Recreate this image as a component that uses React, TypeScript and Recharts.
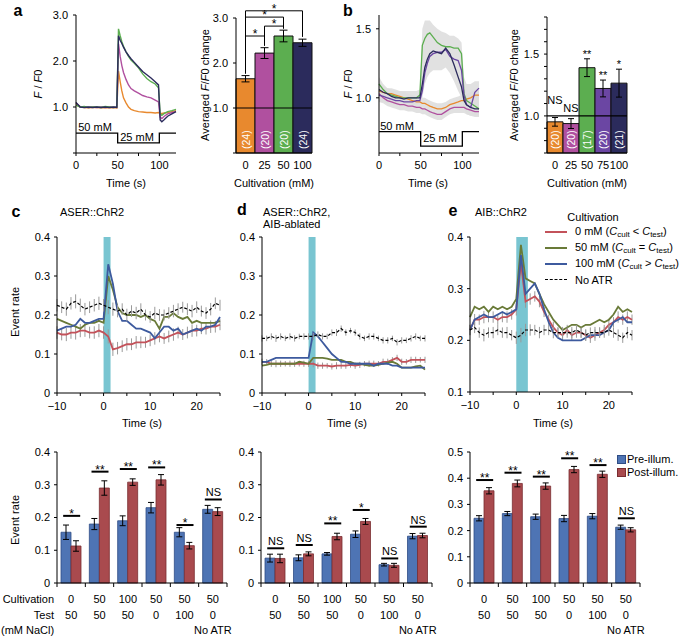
import React from "react";
import {
  LineChart,
  Line,
  BarChart,
  Bar,
  Cell,
  ComposedChart,
  Area,
  XAxis,
  YAxis,
  ReferenceLine,
  ReferenceArea,
  ReferenceDot,
  ErrorBar,
  LabelList,
} from "recharts";

// ---------- panel a : ASER responses, F/F0 ----------
const A_TIME = [0, 5, 10, 15, 20, 25, 30, 35, 40, 45, 49, 51, 53, 55, 57, 60, 63, 66, 70, 75, 80, 85, 90, 95, 99, 101, 103, 106, 110, 115, 120];
const A_0MM = [1.05, 1.0, 0.99, 0.98, 0.99, 0.99, 0.98, 0.99, 0.98, 0.99, 0.98, 1.78, 1.55, 1.35, 1.2, 1.09, 1.0, 0.95, 0.92, 0.9, 0.89, 0.88, 0.88, 0.87, 0.88, 0.86, 0.86, 0.87, 0.88, 0.9, 0.92];
const A_25MM = [1.08, 1.01, 1.0, 0.99, 1.0, 0.99, 1.0, 0.99, 1.0, 0.99, 1.0, 2.38, 2.1, 1.9, 1.75, 1.6, 1.48, 1.4, 1.35, 1.3, 1.25, 1.22, 1.2, 1.15, 1.11, 0.78, 0.75, 0.8, 0.85, 0.88, 0.9];
const A_50MM = [1.04, 1.0, 1.01, 0.99, 1.0, 1.0, 0.99, 1.01, 1.0, 0.99, 1.0, 2.7, 2.55, 2.42, 2.32, 2.2, 2.1, 2.02, 1.95, 1.85, 1.72, 1.62, 1.55, 1.5, 1.42, 0.85, 0.82, 0.86, 0.9, 0.92, 0.95];
const A_100MM = [1.1, 1.0, 0.99, 1.0, 0.99, 1.0, 0.99, 1.0, 0.99, 1.0, 0.99, 2.55, 2.45, 2.38, 2.3, 2.2, 2.12, 2.05, 1.97, 1.87, 1.77, 1.7, 1.63, 1.55, 1.48, 0.72, 0.68, 0.73, 0.8, 0.85, 0.9];

const STIM_TIME = [0, 50, 100, 120];
const STIM_CONC = [50, 25, 50, 50];

const A_BAR_CULT = ["0", "25", "50", "100"];
const A_BAR_MEAN = [1.65, 2.22, 2.6, 2.45];
const A_BAR_ERR = [0.07, 0.12, 0.13, 0.08];
const A_BAR_N = ["(24)", "(20)", "(20)", "(24)"];

// ---------- panel b : AIB responses ----------
const B_TIME = [0, 5, 10, 15, 20, 25, 30, 35, 40, 45, 49, 52, 55, 58, 61, 65, 70, 75, 80, 85, 90, 95, 99, 102, 105, 110, 115, 120];
const B_0MM = [1.05, 1.04, 1.03, 1.03, 1.02, 1.01, 1.0, 0.99, 0.98, 0.97, 0.97, 0.96, 0.96, 0.95, 0.94, 0.93, 0.92, 0.92, 0.93, 0.95, 0.96, 0.97, 0.98, 0.98, 0.99, 1.0, 1.02, 1.02];
const B_25MM = [1.03, 1.0, 0.98, 0.97, 0.96, 0.95, 0.95, 0.94, 0.94, 0.93, 0.93, 0.92, 0.92, 0.91, 0.9, 0.89, 0.88, 0.88, 0.9, 0.92, 0.93, 0.93, 0.93, 0.93, 0.92, 0.91, 0.9, 0.9];
const B_50MM = [1.1, 1.06, 1.03, 1.02, 1.01, 1.0, 1.0, 1.0, 1.0, 1.0, 1.02, 1.38, 1.43, 1.46, 1.47, 1.44, 1.4, 1.38, 1.37, 1.37, 1.36, 1.36, 1.32, 1.03, 0.98, 0.96, 0.94, 0.92];
const B_75MM = [1.02, 1.01, 1.0, 0.99, 0.98, 0.98, 0.97, 0.97, 0.97, 0.98, 0.98, 1.05, 1.18, 1.25, 1.3, 1.32, 1.33, 1.33, 1.35, 1.3, 1.28, 1.27, 1.2, 1.02, 0.95, 0.93, 1.04, 1.07];
const B_100MM = [1.06, 1.04, 1.03, 1.01, 1.0, 1.0, 0.99, 1.0, 1.0, 1.0, 1.0, 1.1, 1.22, 1.28, 1.32, 1.34, 1.33, 1.32, 1.36, 1.32, 1.24, 1.15, 1.08, 0.98, 0.95, 0.93, 0.92, 0.92];
// s.e.m. envelopes (upper traces / lower traces)
const B_UP_LO = [0.97, 0.97, 0.96, 0.96, 0.95, 0.95, 0.95, 0.95, 0.95, 0.95, 0.96, 1.0, 1.1, 1.15, 1.18, 1.2, 1.2, 1.2, 1.22, 1.18, 1.12, 1.05, 1.0, 0.92, 0.88, 0.87, 0.87, 0.87];
const B_UP_HI = [1.15, 1.1, 1.07, 1.06, 1.05, 1.05, 1.05, 1.05, 1.05, 1.05, 1.06, 1.5, 1.56, 1.56, 1.56, 1.53, 1.5, 1.48, 1.47, 1.45, 1.45, 1.43, 1.4, 1.15, 1.1, 1.1, 1.12, 1.12];
const B_LOW_LO = [0.97, 0.96, 0.94, 0.93, 0.92, 0.91, 0.91, 0.9, 0.9, 0.89, 0.89, 0.88, 0.88, 0.87, 0.86, 0.85, 0.84, 0.84, 0.86, 0.88, 0.89, 0.89, 0.89, 0.89, 0.88, 0.87, 0.86, 0.86];
const B_LOW_HI = [1.09, 1.08, 1.07, 1.07, 1.06, 1.05, 1.04, 1.03, 1.02, 1.01, 1.01, 1.0, 1.0, 0.99, 0.98, 0.97, 0.96, 0.96, 0.97, 0.99, 1.0, 1.01, 1.02, 1.02, 1.03, 1.04, 1.06, 1.06];

const B_BAR_CULT = ["0", "25", "50", "75", "100"];
const B_BAR_MEAN = [0.952, 0.938, 1.39, 1.222, 1.265];
const B_BAR_ERR = [0.035, 0.04, 0.072, 0.068, 0.113];
const B_BAR_N = ["(20)", "(20)", "(17)", "(20)", "(21)"];
const B_BAR_SIG = ["NS", "NS", "**", "**", "*"];
const B_BAR_SIG_AT = [1.13, 1.065, 1.5, 1.333, 1.418];

// ---------- panels c-e : event-rate traces ----------
const T_TIME = [-10, -9, -8, -7, -6, -5, -4, -3, -2, -1, 0, 1, 2, 3, 4, 5, 6, 7, 8, 9, 10, 11, 12, 13, 14, 15, 16, 17, 18, 19, 20, 21, 22, 23, 24, 25];

const C_0MM = [0.155, 0.15, 0.15, 0.155, 0.155, 0.16, 0.16, 0.155, 0.155, 0.16, 0.155, 0.145, 0.112, 0.115, 0.12, 0.125, 0.125, 0.13, 0.13, 0.13, 0.135, 0.14, 0.145, 0.14, 0.145, 0.15, 0.155, 0.15, 0.155, 0.16, 0.16, 0.165, 0.165, 0.17, 0.17, 0.175];
const C_50MM = [0.19, 0.185, 0.18, 0.175, 0.17, 0.165, 0.175, 0.18, 0.18, 0.185, 0.18, 0.3, 0.265, 0.22, 0.205, 0.2, 0.2, 0.2, 0.195, 0.2, 0.19, 0.185, 0.165, 0.195, 0.195, 0.205, 0.195, 0.19, 0.195, 0.18, 0.185, 0.18, 0.18, 0.18, 0.18, 0.185];
const C_100MM = [0.16, 0.165, 0.17, 0.17, 0.175, 0.19, 0.18, 0.18, 0.185, 0.19, 0.19, 0.33, 0.28, 0.21, 0.185, 0.185, 0.175, 0.165, 0.165, 0.16, 0.155, 0.14, 0.155, 0.17, 0.17, 0.16, 0.165, 0.15, 0.155, 0.16, 0.165, 0.16, 0.17, 0.17, 0.175, 0.195];
const C_NO_ATR = [0.225, 0.22, 0.215, 0.23, 0.235, 0.225, 0.215, 0.22, 0.225, 0.23, 0.225, 0.22, 0.215, 0.21, 0.215, 0.2, 0.21, 0.205, 0.215, 0.2, 0.195, 0.205, 0.2, 0.2, 0.205, 0.21, 0.215, 0.22, 0.215, 0.21, 0.22, 0.21, 0.205, 0.215, 0.23, 0.225];
const C_SEM = [0.016, 0.015, 0.017, 0.016, 0.018, 0.017, 0.016, 0.015, 0.016, 0.017, 0.016, 0.018, 0.017, 0.016, 0.015, 0.016, 0.015, 0.016, 0.015, 0.014, 0.015, 0.016, 0.015, 0.014, 0.015, 0.016, 0.015, 0.014, 0.015, 0.016, 0.015, 0.014, 0.015, 0.016, 0.015, 0.014];

const D_0MM = [0.08, 0.08, 0.075, 0.075, 0.075, 0.075, 0.075, 0.075, 0.075, 0.075, 0.075, 0.075, 0.07, 0.07, 0.07, 0.068, 0.07, 0.07, 0.07, 0.072, 0.07, 0.072, 0.075, 0.075, 0.075, 0.075, 0.08, 0.08, 0.085, 0.09, 0.08, 0.08, 0.085, 0.085, 0.085, 0.085];
const D_50MM = [0.07, 0.072, 0.075, 0.075, 0.075, 0.075, 0.075, 0.075, 0.08, 0.078, 0.075, 0.09, 0.09, 0.09, 0.088, 0.085, 0.085, 0.085, 0.08, 0.08, 0.075, 0.075, 0.072, 0.07, 0.07, 0.072, 0.075, 0.078, 0.08, 0.075, 0.065, 0.065, 0.065, 0.068, 0.07, 0.06];
const D_100MM = [0.08, 0.08, 0.085, 0.09, 0.09, 0.09, 0.09, 0.09, 0.09, 0.09, 0.09, 0.155, 0.145, 0.13, 0.115, 0.1, 0.09, 0.08, 0.08, 0.075, 0.075, 0.075, 0.075, 0.075, 0.07, 0.075, 0.075, 0.075, 0.07, 0.07, 0.065, 0.065, 0.065, 0.065, 0.065, 0.065];
const D_NO_ATR = [0.14, 0.14, 0.145, 0.14, 0.145, 0.14, 0.145, 0.14, 0.145, 0.145, 0.145, 0.145, 0.15, 0.145, 0.145, 0.155, 0.155, 0.165, 0.155, 0.16, 0.155, 0.145, 0.14, 0.145, 0.145, 0.14, 0.135, 0.135, 0.14, 0.13, 0.135, 0.135, 0.14, 0.145, 0.14, 0.14];
const D_SEM = [0.008, 0.007, 0.008, 0.009, 0.008, 0.007, 0.008, 0.008, 0.007, 0.008, 0.008, 0.009, 0.008, 0.008, 0.007, 0.008, 0.009, 0.008, 0.008, 0.007, 0.008, 0.008, 0.007, 0.008, 0.008, 0.007, 0.008, 0.008, 0.007, 0.008, 0.008, 0.007, 0.008, 0.008, 0.007, 0.008];

const E_0MM = [0.22, 0.24, 0.24, 0.245, 0.245, 0.245, 0.24, 0.245, 0.245, 0.25, 0.26, 0.35, 0.275, 0.28, 0.285, 0.275, 0.255, 0.24, 0.225, 0.215, 0.21, 0.22, 0.21, 0.215, 0.215, 0.21, 0.205, 0.21, 0.215, 0.22, 0.23, 0.235, 0.245, 0.24, 0.245, 0.24];
const E_50MM = [0.245, 0.265, 0.26, 0.265, 0.255, 0.265, 0.26, 0.265, 0.26, 0.265, 0.28, 0.385, 0.32, 0.315, 0.31, 0.29, 0.27, 0.255, 0.24, 0.23, 0.22, 0.225, 0.23, 0.23, 0.225, 0.23, 0.23, 0.235, 0.24, 0.235, 0.24, 0.25, 0.265, 0.255, 0.26, 0.255];
const E_100MM = [0.22, 0.24, 0.245, 0.25, 0.245, 0.245, 0.25, 0.255, 0.25, 0.255, 0.26, 0.365, 0.29, 0.3, 0.31, 0.29, 0.26, 0.235, 0.215, 0.205, 0.2, 0.2, 0.2, 0.2, 0.2, 0.205, 0.21, 0.21, 0.21, 0.215, 0.22, 0.235, 0.24, 0.245, 0.235, 0.235];
const E_NO_ATR = [0.22, 0.225, 0.215, 0.21, 0.215, 0.215, 0.22, 0.215, 0.215, 0.21, 0.205, 0.21, 0.22, 0.22, 0.22, 0.215, 0.22, 0.22, 0.215, 0.215, 0.215, 0.215, 0.215, 0.22, 0.215, 0.21, 0.215, 0.215, 0.215, 0.215, 0.22, 0.215, 0.21, 0.205, 0.215, 0.21];
const E_SEM = [0.01, 0.011, 0.01, 0.012, 0.01, 0.011, 0.01, 0.01, 0.011, 0.01, 0.012, 0.014, 0.012, 0.011, 0.01, 0.011, 0.01, 0.01, 0.011, 0.01, 0.011, 0.01, 0.011, 0.01, 0.01, 0.011, 0.01, 0.011, 0.01, 0.01, 0.011, 0.01, 0.011, 0.01, 0.011, 0.01];

// ---------- panels c-e : pre / post illumination bars ----------
const GROUP_CULT = ["0", "50", "100", "50", "50", "50"];
const GROUP_TEST = ["50", "50", "50", "0", "100", "0"];

const C_PRE = [0.155, 0.18, 0.19, 0.23, 0.155, 0.225];
const C_PRE_ERR = [0.022, 0.017, 0.015, 0.016, 0.014, 0.012];
const C_POST = [0.113, 0.29, 0.308, 0.315, 0.114, 0.218];
const C_POST_ERR = [0.016, 0.022, 0.01, 0.016, 0.01, 0.012];
const C_SIG = ["*", "**", "**", "**", "*", "NS"];
const C_SIG_AT = [0.205, 0.34, 0.348, 0.353, 0.177, 0.255];

const D_PRE = [0.076, 0.077, 0.089, 0.149, 0.056, 0.143];
const D_PRE_ERR = [0.012, 0.009, 0.004, 0.01, 0.004, 0.008];
const D_POST = [0.075, 0.089, 0.142, 0.188, 0.054, 0.145];
const D_POST_ERR = [0.013, 0.006, 0.01, 0.009, 0.006, 0.007];
const D_SIG = ["NS", "NS", "**", "*", "NS", "NS"];
const D_SIG_AT = [0.106, 0.116, 0.182, 0.223, 0.075, 0.172];

const E_PRE = [0.247, 0.265, 0.253, 0.246, 0.255, 0.213];
const E_PRE_ERR = [0.01, 0.008, 0.01, 0.012, 0.01, 0.008];
const E_POST = [0.352, 0.38, 0.37, 0.433, 0.415, 0.203];
const E_POST_ERR = [0.012, 0.013, 0.012, 0.012, 0.012, 0.008];
const E_SIG = ["**", "**", "**", "**", "**", "NS"];
const E_SIG_AT = [0.393, 0.421, 0.406, 0.476, 0.45, 0.247];

// ---------- styling ----------
const FONT = '"Liberation Sans", Arial, Helvetica, sans-serif';
const TICK = { fontSize: 11, fill: "#000" };
const AX = { stroke: "#000", strokeWidth: 1 };

const ORANGE = "#e8892e";
const MAGENTA = "#b0509f";
const GREEN = "#5cae50";
const NAVY = "#2b2b5c";
const VIOLET = "#6b46a3";
const RED = "#c3525a";
const OLIVE = "#697a38";
const BLUE = "#3d5a9e";
const PRE_BLUE = "#4e74b4";
const POST_RED = "#a94a4e";
const LIGHT = "#79c5d1";

type Rect = { x0: number; y0: number; x1: number; y1: number };

// chart box around a plot rectangle given in page pixels
const frame = (r: Rect, padL: number, padT: number, padR: number, padB: number) => ({
  style: { position: "absolute", left: r.x0 - padL, top: r.y0 - padT } as React.CSSProperties,
  width: r.x1 - r.x0 + padL + padR,
  height: r.y1 - r.y0 + padT + padB,
  margin: { top: padT, right: padR, bottom: 0, left: 0 },
  padL,
  padB,
});

const Txt = ({ x, y, children, size = 11, align = "center", rotate = false, bold = false }: any) => {
  const tx = align === "center" ? "-50%" : align === "right" ? "-100%" : "0";
  return (
    <div
      style={{
        position: "absolute",
        left: x,
        top: y,
        transform: `translate(${tx}, -50%)${rotate ? " rotate(-90deg)" : ""}`,
        whiteSpace: "nowrap",
        fontSize: size,
        lineHeight: 1,
        fontWeight: bold ? "bold" : "normal",
      }}
    >
      {children}
    </div>
  );
};

const FF0 = () => (
  <>
    <i>F</i> / <i>F</i>0
  </>
);

const CountLabel = (props: any) => {
  const vb = props.viewBox || {};
  const x = props.x ?? vb.x;
  const y = props.y ?? vb.y;
  const w = props.width ?? vb.width;
  const h = props.height ?? vb.height;
  const cx = x + w / 2;
  const by = y + h - 4;
  return (
    <text x={cx} y={by} transform={`rotate(-90 ${cx} ${by})`} fill="#fff" fontSize={10.5} dominantBaseline="central" textAnchor="start">
      {props.value}
    </text>
  );
};

// star text above a bracket line
const starLabel = (props: any) => {
  const vb = props.viewBox || {};
  const cx = vb.x + (vb.width || 0) / 2;
  return (
    <text x={cx} y={vb.y + 2} textAnchor="middle" fontSize={12} fill="#000">
      *
    </text>
  );
};

// text centred on a reference dot
const dotText = (value: string) => (props: any) => {
  const vb = props.viewBox || {};
  const cx = vb.x + (vb.width || 0) / 2;
  const cy = vb.y + (vb.height || 0) / 2;
  return (
    <text x={cx} y={cy + 4} textAnchor="middle" fontSize={11} fill="#000">
      {value}
    </text>
  );
};

// significance mark over a pre/post pair: short thick line plus text
const sigShape = (value: string) => (props: any) => {
  const { cx, cy } = props;
  if (cx == null || cy == null) return <g />;
  const ns = value === "NS";
  return (
    <g>
      <line x1={cx - 8} x2={cx + 9} y1={cy} y2={cy} stroke="#000" strokeWidth={2} />
      <text x={cx + 0.5} y={ns ? cy - 3 : cy + 2} textAnchor="middle" fontSize={ns ? 11 : 12} fill="#000">
        {value}
      </text>
    </g>
  );
};

// ---------- panel a ----------
const PanelALine = () => {
  const data = A_TIME.map((t, i) => ({ t, c0: A_0MM[i], c25: A_25MM[i], c50: A_50MM[i], c100: A_100MM[i] }));
  const stim = STIM_TIME.map((t, i) => ({ t, s: STIM_CONC[i] === 50 ? 0.43 : 0.22 }));
  const f = frame({ x0: 76, y0: 15, x1: 176, y1: 153 }, 40, 10, 8, 36);
  return (
    <div style={f.style}>
      <LineChart width={f.width} height={f.height} data={data} margin={f.margin}>
        <XAxis dataKey="t" type="number" domain={[0, 120]} ticks={[0, 25, 50, 75, 100]} tickFormatter={(v) => (v % 50 === 0 ? String(v) : "")} height={f.padB} tick={TICK} axisLine={AX} tickLine={AX} tickSize={3} tickMargin={5} />
        <YAxis type="number" domain={[0, 3]} ticks={[0, 1, 2, 3]} tickFormatter={(v) => (v === 0 ? "" : v.toFixed(1))} width={f.padL} tick={TICK} axisLine={AX} tickLine={AX} tickSize={3} tickMargin={5} />
        <Line data={stim} dataKey="s" type="stepAfter" stroke="#000" strokeWidth={1.3} dot={false} activeDot={false} isAnimationActive={false} />
        <Line dataKey="c0" stroke={ORANGE} strokeWidth={1.4} dot={false} activeDot={false} isAnimationActive={false} />
        <Line dataKey="c25" stroke={MAGENTA} strokeWidth={1.4} dot={false} activeDot={false} isAnimationActive={false} />
        <Line dataKey="c50" stroke={GREEN} strokeWidth={1.4} dot={false} activeDot={false} isAnimationActive={false} />
        <Line dataKey="c100" stroke={NAVY} strokeWidth={1.4} dot={false} activeDot={false} isAnimationActive={false} />
      </LineChart>
    </div>
  );
};

// comparison brackets (bar indices) and their stems, in F/F0 units
const A_BRACKETS = [
  { from: 0, to: 3, h: 3.16 },
  { from: 0, to: 2, h: 3.02 },
  { from: 1, to: 2, h: 2.82 },
  { from: 0, to: 1, h: 2.6 },
];
const A_STEMS = [
  { bar: 0, top: 3.16, bottom: 1.76 },
  { bar: 1, top: 2.82, bottom: 2.38 },
  { bar: 2, top: 3.02, bottom: 2.76 },
  { bar: 3, top: 3.16, bottom: 2.58 },
];

const PanelABar = () => {
  const data = A_BAR_CULT.map((c, i) => ({ c, m: A_BAR_MEAN[i], e: A_BAR_ERR[i], n: A_BAR_N[i] }));
  const colors = [ORANGE, MAGENTA, GREEN, NAVY];
  const f = frame({ x0: 236, y0: 18, x1: 312, y1: 153 }, 40, 18, 8, 36);
  return (
    <div style={f.style}>
      <BarChart width={f.width} height={f.height} data={data} margin={f.margin} barCategoryGap={0}>
        <XAxis dataKey="c" interval={0} height={f.padB} tick={TICK} axisLine={AX} tickLine={false} tickSize={0} tickMargin={8} />
        <YAxis type="number" domain={[0, 3]} ticks={[0, 1, 2, 3]} tickFormatter={(v) => (v === 0 ? "" : v.toFixed(1))} width={f.padL} tick={TICK} axisLine={AX} tickLine={AX} tickSize={3} tickMargin={5} />
        <Bar dataKey="m" stroke="#111" strokeWidth={1} isAnimationActive={false}>
          {data.map((d, i) => (
            <Cell key={d.c} fill={colors[i]} />
          ))}
          <ErrorBar dataKey="e" width={4} stroke="#000" strokeWidth={1} direction="y" />
          <LabelList dataKey="n" content={CountLabel} />
        </Bar>
        <ReferenceLine y={1} stroke="#000" strokeWidth={1.2} />
        {A_BRACKETS.map((b, i) => (
          <ReferenceLine
            key={"h" + i}
            ifOverflow="visible"
            segment={[
              { x: A_BAR_CULT[b.from], y: b.h },
              { x: A_BAR_CULT[b.to], y: b.h },
            ]}
            stroke="#000"
            strokeWidth={1}
            label={starLabel}
          />
        ))}
        {A_STEMS.map((s, i) => (
          <ReferenceLine
            key={"v" + i}
            ifOverflow="visible"
            segment={[
              { x: A_BAR_CULT[s.bar], y: s.top },
              { x: A_BAR_CULT[s.bar], y: s.bottom },
            ]}
            stroke="#000"
            strokeWidth={1}
          />
        ))}
      </BarChart>
    </div>
  );
};

// ---------- panel b ----------
const PanelBLine = () => {
  const data = B_TIME.map((t, i) => ({
    t,
    c0: B_0MM[i],
    c25: B_25MM[i],
    c50: B_50MM[i],
    c75: B_75MM[i],
    c100: B_100MM[i],
    up: [B_UP_LO[i], B_UP_HI[i]],
    low: [B_LOW_LO[i], B_LOW_HI[i]],
  }));
  const stim = STIM_TIME.map((t, i) => ({ t, s: STIM_CONC[i] === 50 ? 0.755 : 0.65 }));
  const f = frame({ x0: 379, y0: 15, x1: 479, y1: 153 }, 40, 10, 8, 36);
  return (
    <div style={f.style}>
      <ComposedChart width={f.width} height={f.height} data={data} margin={f.margin}>
        <XAxis dataKey="t" type="number" domain={[0, 120]} ticks={[0, 25, 50, 75, 100]} tickFormatter={(v) => (v % 50 === 0 ? String(v) : "")} height={f.padB} tick={TICK} axisLine={AX} tickLine={AX} tickSize={3} tickMargin={5} />
        <YAxis type="number" domain={[0.6, 1.6]} ticks={[1.0, 1.5]} tickFormatter={(v) => v.toFixed(1)} width={f.padL} tick={TICK} axisLine={AX} tickLine={AX} tickSize={3} tickMargin={5} />
        <Area dataKey="up" stroke="none" fill="#dedede" fillOpacity={0.9} activeDot={false} isAnimationActive={false} />
        <Area dataKey="low" stroke="none" fill="#dedede" fillOpacity={0.9} activeDot={false} isAnimationActive={false} />
        <Line data={stim} dataKey="s" type="stepAfter" stroke="#000" strokeWidth={1.3} dot={false} activeDot={false} isAnimationActive={false} />
        <Line dataKey="c0" stroke={ORANGE} strokeWidth={1.3} dot={false} activeDot={false} isAnimationActive={false} />
        <Line dataKey="c25" stroke={MAGENTA} strokeWidth={1.3} dot={false} activeDot={false} isAnimationActive={false} />
        <Line dataKey="c50" stroke={GREEN} strokeWidth={1.3} dot={false} activeDot={false} isAnimationActive={false} />
        <Line dataKey="c75" stroke={VIOLET} strokeWidth={1.3} dot={false} activeDot={false} isAnimationActive={false} />
        <Line dataKey="c100" stroke={NAVY} strokeWidth={1.3} dot={false} activeDot={false} isAnimationActive={false} />
      </ComposedChart>
    </div>
  );
};

const PanelBBar = () => {
  const data = B_BAR_CULT.map((c, i) => ({ c, m: B_BAR_MEAN[i], e: B_BAR_ERR[i], n: B_BAR_N[i] }));
  const colors = [ORANGE, MAGENTA, GREEN, VIOLET, NAVY];
  const f = frame({ x0: 547, y0: 17, x1: 627, y1: 153 }, 40, 10, 8, 36);
  const ticks = [0.7, 0.8, 0.9, 1.0, 1.1, 1.2, 1.3, 1.4, 1.5, 1.6, 1.7, 1.8];
  return (
    <div style={f.style}>
      <BarChart width={f.width} height={f.height} data={data} margin={f.margin} barCategoryGap={0}>
        <XAxis dataKey="c" interval={0} height={f.padB} tick={TICK} axisLine={AX} tickLine={false} tickSize={0} tickMargin={8} />
        <YAxis type="number" domain={[0.7, 1.8]} ticks={ticks} tickFormatter={(v) => (Math.abs(v - 1) < 1e-6 || Math.abs(v - 1.5) < 1e-6 ? v.toFixed(1) : "")} width={f.padL} tick={TICK} axisLine={AX} tickLine={AX} tickSize={3} tickMargin={5} />
        <Bar dataKey="m" stroke="#111" strokeWidth={1} isAnimationActive={false}>
          {data.map((d, i) => (
            <Cell key={d.c} fill={colors[i]} />
          ))}
          <ErrorBar dataKey="e" width={3} stroke="#000" strokeWidth={1} direction="y" />
          <LabelList dataKey="n" content={CountLabel} />
        </Bar>
        <ReferenceLine y={1} stroke="#000" strokeWidth={1.2} />
        {B_BAR_SIG.map((s, i) => (
          <ReferenceDot key={i} x={B_BAR_CULT[i]} y={B_BAR_SIG_AT[i]} r={1} fill="none" stroke="none" ifOverflow="visible" label={dotText(s)} />
        ))}
      </BarChart>
    </div>
  );
};

// ---------- panels c-e traces ----------
type TraceProps = {
  rect: Rect;
  red: number[];
  olive: number[];
  blue: number[];
  noAtr: number[];
  sem: number[];
  yDomain: [number, number];
  yTicks: number[];
  lightEnd: number;
};

const TracePanel = ({ rect, red, olive, blue, noAtr, sem, yDomain, yTicks, lightEnd }: TraceProps) => {
  const data = T_TIME.map((t, i) => ({ t, red: red[i], olive: olive[i], blue: blue[i], atr: noAtr[i], sem: sem[i] }));
  const f = frame(rect, 40, 10, 8, 36);
  const fmtX = (v: number) => (v === -5 || v === 5 || v === 15 || v === 25 ? "" : v < 0 ? "\u2212" + -v : String(v));
  const fmtY = (v: number) => (v === 0 ? "0" : v.toFixed(1));
  return (
    <div style={f.style}>
      <LineChart width={f.width} height={f.height} data={data} margin={f.margin}>
        <XAxis dataKey="t" type="number" domain={[-10, 25]} ticks={[-10, -5, 0, 5, 10, 15, 20, 25]} tickFormatter={fmtX} height={f.padB} tick={TICK} axisLine={AX} tickLine={AX} tickSize={3} tickMargin={6} />
        <YAxis type="number" domain={yDomain} ticks={yTicks} tickFormatter={fmtY} width={f.padL} tick={TICK} axisLine={AX} tickLine={AX} tickSize={3} tickMargin={4} />
        <ReferenceArea x1={0} x2={lightEnd} fill={LIGHT} fillOpacity={1} stroke="none" />
        <Line dataKey="red" stroke={RED} strokeWidth={1.8} dot={false} activeDot={false} isAnimationActive={false}>
          <ErrorBar dataKey="sem" width={0} stroke="#9a9a9a" strokeWidth={1} direction="y" />
        </Line>
        <Line dataKey="olive" stroke={OLIVE} strokeWidth={1.8} dot={false} activeDot={false} isAnimationActive={false} />
        <Line dataKey="blue" stroke={BLUE} strokeWidth={1.8} dot={false} activeDot={false} isAnimationActive={false} />
        <Line dataKey="atr" stroke="#000" strokeWidth={1.2} strokeDasharray="3 2" dot={false} activeDot={false} isAnimationActive={false}>
          <ErrorBar dataKey="sem" width={0} stroke="#9a9a9a" strokeWidth={1} direction="y" />
        </Line>
      </LineChart>
    </div>
  );
};

// ---------- panels c-e bars ----------
type GroupProps = {
  rect: Rect;
  pre: number[];
  preErr: number[];
  post: number[];
  postErr: number[];
  sig: string[];
  sigAt: number[];
  yDomain: [number, number];
  yTicks: number[];
};

const GroupBars = ({ rect, pre, preErr, post, postErr, sig, sigAt, yDomain, yTicks }: GroupProps) => {
  const data = GROUP_CULT.map((c, i) => ({ g: i, pre: pre[i], preErr: preErr[i], post: post[i], postErr: postErr[i] }));
  const f = frame(rect, 40, 10, 8, 55);
  const n = GROUP_CULT.length;
  const bandHalf = (rect.x1 - rect.x0) / n / 2;
  const tick = (p: any) => {
    const { x, y, index } = p;
    const half = p.payload && p.payload.offset ? p.payload.offset : bandHalf;
    return (
      <g>
        {index === 0 && <line x1={x - half} x2={x - half} y1={y} y2={y + 4} stroke="#000" />}
        <line x1={x + half} x2={x + half} y1={y} y2={y + 4} stroke="#000" />
        <text x={x} y={y + 20} textAnchor="middle" fontSize={11} fill="#000">
          {GROUP_CULT[index]}
        </text>
        <text x={x} y={y + 36} textAnchor="middle" fontSize={11} fill="#000">
          {GROUP_TEST[index]}
        </text>
        {index === n - 1 && (
          <text x={x} y={y + 51} textAnchor="middle" fontSize={11} fill="#000">
            No ATR
          </text>
        )}
      </g>
    );
  };
  const fmtY = (v: number) => (v === 0 ? "0" : v.toFixed(1));
  return (
    <div style={f.style}>
      <BarChart width={f.width} height={f.height} data={data} margin={f.margin} barGap={0}>
        <XAxis dataKey="g" interval={0} height={f.padB} tick={tick} axisLine={AX} tickLine={false} tickSize={0} tickMargin={0} />
        <YAxis type="number" domain={yDomain} ticks={yTicks} tickFormatter={fmtY} width={f.padL} tick={TICK} axisLine={AX} tickLine={AX} tickSize={3} tickMargin={4} />
        <Bar dataKey="pre" barSize={10} fill={PRE_BLUE} stroke="#2f4d85" strokeWidth={0.8} isAnimationActive={false}>
          <ErrorBar dataKey="preErr" width={3} stroke="#000" strokeWidth={1} direction="y" />
        </Bar>
        <Bar dataKey="post" barSize={10} fill={POST_RED} stroke="#7a2d31" strokeWidth={0.8} isAnimationActive={false}>
          <ErrorBar dataKey="postErr" width={3} stroke="#000" strokeWidth={1} direction="y" />
        </Bar>
        {sig.map((s, i) => (
          <ReferenceDot key={i} x={i} y={sigAt[i]} r={1} ifOverflow="visible" shape={sigShape(s)} />
        ))}
      </BarChart>
    </div>
  );
};

const LegendRow = ({ y, color, dashed, children }: any) => (
  <>
    <div
      style={{
        position: "absolute",
        left: 545,
        top: y - 1,
        width: 22,
        borderTop: dashed ? "1.5px dashed #000" : `2px solid ${color}`,
      }}
    />
    <Txt x={575} y={y} align="left">
      {children}
    </Txt>
  </>
);

const Sub = ({ children }: any) => <sub style={{ fontSize: 8, verticalAlign: "-2px" }}>{children}</sub>;

export default function App() {
  const cTicks = [0, 0.1, 0.2, 0.3, 0.4];
  return (
    <div
      style={{
        position: "absolute",
        left: 0,
        top: 0,
        width: 685,
        height: 638,
        background: "#fff",
        fontFamily: FONT,
        color: "#000",
        overflow: "hidden",
      }}
    >
      <PanelALine />
      <PanelABar />
      <PanelBLine />
      <PanelBBar />
      <TracePanel rect={{ x0: 57, y0: 237, x1: 220, y1: 393 }} red={C_0MM} olive={C_50MM} blue={C_100MM} noAtr={C_NO_ATR} sem={C_SEM} yDomain={[0, 0.4]} yTicks={cTicks} lightEnd={1.5} />
      <TracePanel rect={{ x0: 262, y0: 237, x1: 425, y1: 393 }} red={D_0MM} olive={D_50MM} blue={D_100MM} noAtr={D_NO_ATR} sem={D_SEM} yDomain={[0, 0.4]} yTicks={cTicks} lightEnd={1.5} />
      <TracePanel rect={{ x0: 470, y0: 237, x1: 632, y1: 392 }} red={E_0MM} olive={E_50MM} blue={E_100MM} noAtr={E_NO_ATR} sem={E_SEM} yDomain={[0.1, 0.4]} yTicks={[0.1, 0.2, 0.3, 0.4]} lightEnd={2.5} />
      <GroupBars rect={{ x0: 57, y0: 452, x1: 227, y1: 583 }} pre={C_PRE} preErr={C_PRE_ERR} post={C_POST} postErr={C_POST_ERR} sig={C_SIG} sigAt={C_SIG_AT} yDomain={[0, 0.4]} yTicks={cTicks} />
      <GroupBars rect={{ x0: 261, y0: 452, x1: 432, y1: 583 }} pre={D_PRE} preErr={D_PRE_ERR} post={D_POST} postErr={D_POST_ERR} sig={D_SIG} sigAt={D_SIG_AT} yDomain={[0, 0.4]} yTicks={cTicks} />
      <GroupBars rect={{ x0: 470, y0: 452, x1: 640, y1: 583 }} pre={E_PRE} preErr={E_PRE_ERR} post={E_POST} postErr={E_POST_ERR} sig={E_SIG} sigAt={E_SIG_AT} yDomain={[0, 0.5]} yTicks={[0, 0.1, 0.2, 0.3, 0.4, 0.5]} />

      {/* panel letters */}
      <Txt x={18} y={11} size={16} bold>a</Txt>
      <Txt x={348} y={11} size={16} bold>b</Txt>
      <Txt x={16} y={212} size={16} bold>c</Txt>
      <Txt x={242} y={210} size={16} bold>d</Txt>
      <Txt x={453} y={211} size={16} bold>e</Txt>

      {/* panel a text */}
      <Txt x={38} y={84} rotate><FF0 /></Txt>
      <Txt x={126} y={183}>Time (s)</Txt>
      <Txt x={95} y={127}>50 mM</Txt>
      <Txt x={137} y={137}>25 mM</Txt>
      <Txt x={205} y={85} rotate>
        Averaged <i>F</i>/<i>F</i>0 change
      </Txt>
      <Txt x={274} y={183}>Cultivation (mM)</Txt>

      {/* panel b text */}
      <Txt x={348} y={84} rotate><FF0 /></Txt>
      <Txt x={428} y={183}>Time (s)</Txt>
      <Txt x={397} y={126}>50 mM</Txt>
      <Txt x={440} y={138}>25 mM</Txt>
      <Txt x={514} y={85} rotate>
        Averaged <i>F</i>/<i>F</i>0 change
      </Txt>
      <Txt x={587} y={183}>Cultivation (mM)</Txt>

      {/* panel c-e titles */}
      <Txt x={60} y={212} align="left">ASER::ChR2</Txt>
      <Txt x={263} y={212} align="left">ASER::ChR2,</Txt>
      <Txt x={263} y={224} align="left">AIB-ablated</Txt>
      <Txt x={475} y={212} align="left">AIB::ChR2</Txt>

      <Txt x={15} y={312} rotate>Event rate</Txt>
      <Txt x={15} y={520} rotate>Event rate</Txt>
      <Txt x={142} y={423}>Time (s)</Txt>
      <Txt x={347} y={423}>Time (s)</Txt>
      <Txt x={553} y={423}>Time (s)</Txt>

      {/* trace legend */}
      <Txt x={593} y={217}>Cultivation</Txt>
      <LegendRow y={232} color={RED}>
        0 mM (<i>C</i><Sub>cult</Sub> &lt; <i>C</i><Sub>test</Sub>)
      </LegendRow>
      <LegendRow y={248} color={OLIVE}>
        50 mM (<i>C</i><Sub>cult</Sub> = <i>C</i><Sub>test</Sub>)
      </LegendRow>
      <LegendRow y={264} color={BLUE}>
        100 mM (<i>C</i><Sub>cult</Sub> &gt; <i>C</i><Sub>test</Sub>)
      </LegendRow>
      <LegendRow y={280} dashed>
        No ATR
      </LegendRow>

      {/* bar row labels */}
      <Txt x={54} y={599} align="right">Cultivation</Txt>
      <Txt x={54} y={615} align="right">Test</Txt>
      <Txt x={1} y={630} align="left">(mM NaCl)</Txt>

      {/* bar legend */}
      <div style={{ position: "absolute", left: 617, top: 455, width: 7, height: 7, background: PRE_BLUE, border: "1px solid #2f4d85" }} />
      <div style={{ position: "absolute", left: 617, top: 468, width: 7, height: 7, background: POST_RED, border: "1px solid #7a2d31" }} />
      <Txt x={627} y={459} align="left" size={11}>Pre-illum.</Txt>
      <Txt x={627} y={472} align="left" size={11}>Post-illum.</Txt>
    </div>
  );
}
